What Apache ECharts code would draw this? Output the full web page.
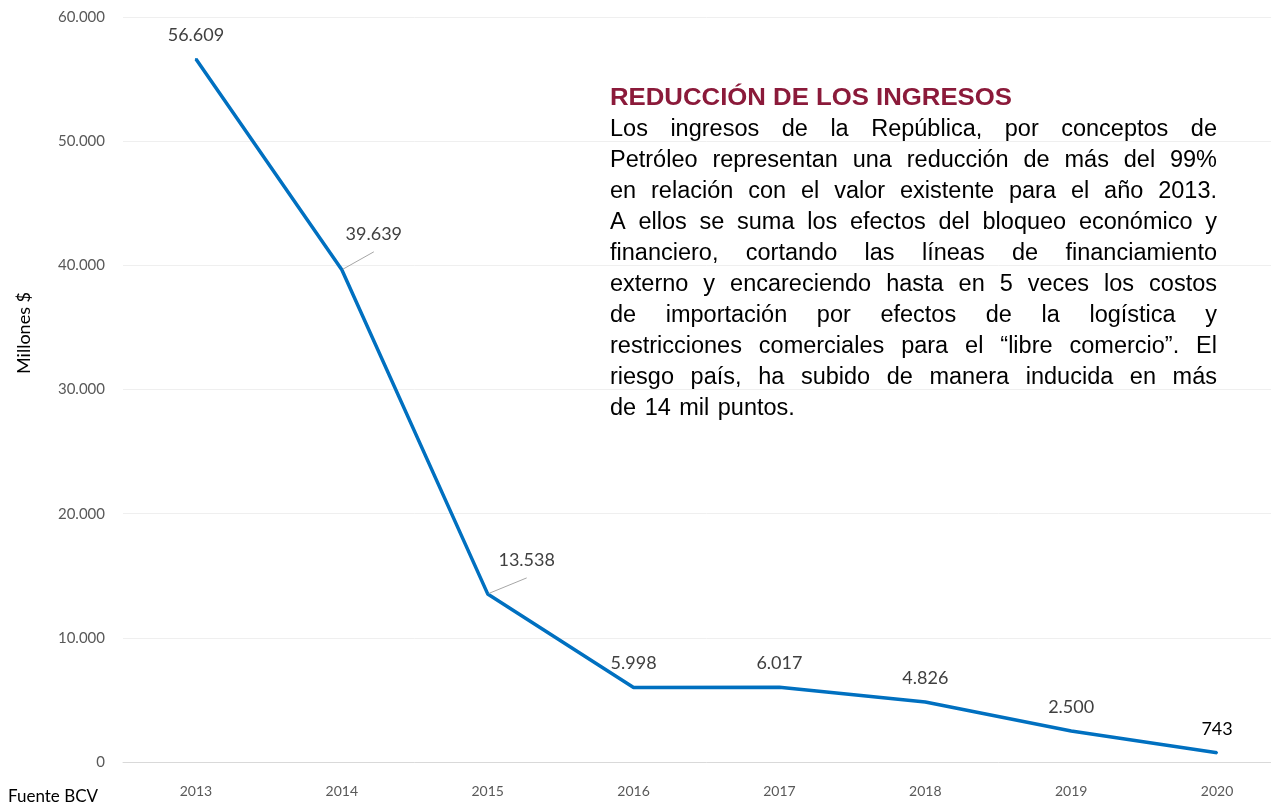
<!DOCTYPE html>
<html>
<head>
<meta charset="utf-8">
<script src="https://cdn.jsdelivr.net/npm/echarts@6/dist/echarts.min.js"></script>
<style>
  html, body { margin: 0; padding: 0; background: #fff; overflow: hidden; }
  /* plot runs past the right edge of the window, like the cropped original */
  #chart { width: 1290px; height: 806px; }
</style>
</head>
<body>
<div id="chart"></div>
<script>
const years = ['2013', '2014', '2015', '2016', '2017', '2018', '2019', '2020']
const ingresos = [56609, 39639, 13538, 5998, 6017, 4826, 2500, 743]
const yTicks = [0, 10000, 20000, 30000, 40000, 50000, 60000]

const noteTitle = 'REDUCCIÓN DE LOS INGRESOS'
const noteLines = [
  'Los ingresos de la República, por conceptos de',
  'Petróleo representan una reducción de más del 99%',
  'en  relación con el valor existente para el año 2013.',
  'A ellos se suma los efectos del bloqueo económico y',
  'financiero, cortando las líneas de financiamiento',
  'externo y encareciendo hasta en 5 veces los costos',
  'de importación por efectos de la logística y',
  'restricciones comerciales para el “libre comercio”. El',
  'riesgo país, ha subido de manera inducida en más',
  'de 14 mil puntos.'
]

const fmt = v => String(v).replace(/\B(?=(\d{3})+(?!\d))/g, '.')

// justified paragraph, one text element per word
const noteFont = '23.5px "Liberation Sans"'
const measure = document.createElement('canvas').getContext('2d')
function buildNote() {
  const left = 610, right = 1217, top = 130, lh = 31
  measure.font = 'bold 24px "Liberation Sans"'
  const titleScale = 402 / measure.measureText(noteTitle).width
  const els = [{
    type: 'text', x: left, y: 98, scaleX: titleScale,
    style: { text: noteTitle, font: 'bold 24px "Liberation Sans"', fill: '#8B1A3A', verticalAlign: 'middle' }
  }]
  measure.font = noteFont
  const w = s => measure.measureText(s).width
  noteLines.forEach((line, i) => {
    const y = top + i * lh
    const words = line.split(/\s+/)
    let gap = w(' ') * 1.3
    if (i < noteLines.length - 1) {
      const total = words.reduce((s, t) => s + w(t), 0)
      gap = (right - left - total) / (words.length - 1)
    }
    let x = left
    words.forEach(t => {
      els.push({
        type: 'text', x: x, y: y,
        style: { text: t, font: noteFont, fill: '#000', verticalAlign: 'middle' }
      })
      x += w(t) + gap
    })
  })
  return els
}

const chart = echarts.init(document.getElementById('chart'))
chart.setOption({
  animation: false,
  grid: { left: 123, top: 17, width: 1167, height: 745 },
  xAxis: {
    type: 'category',
    data: years,
    boundaryGap: true,
    axisLine: { lineStyle: { color: '#d9d9d9' } },
    axisTick: { show: false },
    axisLabel: { color: '#595959', fontSize: 14, fontFamily: 'Lato', margin: 22 }
  },
  yAxis: {
    type: 'value',
    min: yTicks[0],
    max: yTicks[yTicks.length - 1],
    interval: 10000,
    axisLine: { show: false },
    axisTick: { show: false },
    splitLine: { lineStyle: { color: '#efefef' } },
    axisLabel: { color: '#595959', fontSize: 15, fontFamily: 'Lato', margin: 18, formatter: v => fmt(v) }
  },
  series: [{
    type: 'line',
    data: ingresos.map((v, i) => {
      const d = { value: v }
      if (i === 1) { d.label = { offset: [32, -12] }; d.labelLine = { show: true } }
      if (i === 2) { d.label = { offset: [39, -10] }; d.labelLine = { show: true } }
      if (i === 7) d.label = { color: '#000' }
      return d
    }),
    symbol: 'circle',
    symbolSize: 2,
    itemStyle: { color: '#0070C0' },
    lineStyle: { color: '#0070C0', width: 3.5 },
    label: {
      show: true,
      position: 'top',
      distance: 14,
      color: '#404040',
      fontSize: 18,
      fontFamily: 'Lato',
      formatter: p => fmt(p.value)
    },
    labelLine: { show: false, lineStyle: { color: '#a6a6a6', width: 1 } }
  }],
  graphic: buildNote().concat([
    {
      type: 'text', x: 24, y: 333, rotation: Math.PI / 2,
      style: { text: 'Millones $', font: '18px Lato', fill: '#000', align: 'center', verticalAlign: 'middle' }
    },
    {
      type: 'text', x: 8, y: 797,
      style: { text: 'Fuente BCV', font: '17px Lato', fill: '#000', verticalAlign: 'middle' }
    }
  ])
})
</script>
</body>
</html>
